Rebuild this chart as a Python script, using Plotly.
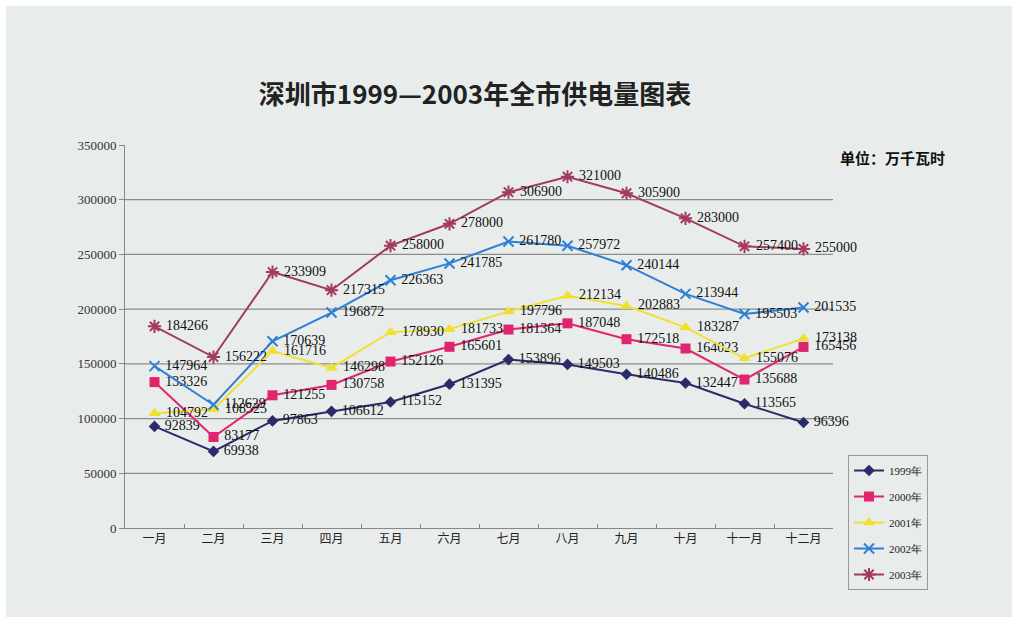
import plotly.graph_objects as go

months = ["一月", "二月", "三月", "四月", "五月", "六月", "七月", "八月", "九月", "十月", "十一月", "十二月"]
y1999 = [92839, 69938, 97863, 106612, 115152, 131395, 153896, 149503, 140486, 132447, 113565, 96396]
y2000 = [133326, 83177, 121255, 130758, 152126, 165601, 181364, 187048, 172518, 164023, 135688, 165456]
y2001 = [104792, 108525, 161716, 146298, 178930, 181733, 197796, 212134, 202883, 183287, 155076, 173138]
y2002 = [147964, 112629, 170639, 196872, 226363, 241785, 261780, 257972, 240144, 213944, 195503, 201535]
y2003 = [184266, 156222, 233909, 217315, 258000, 278000, 306900, 321000, 305900, 283000, 257400, 255000]
grid_values = [50000, 100000, 150000, 200000, 250000, 300000]

series = [
    ("1999年", y1999, "#2b2a6b", "diamond", 9, 0),
    ("2000年", y2000, "#e0246e", "square", 10, 0),
    ("2001年", y2001, "#f0e030", "triangle-up", 11, 0),
    ("2002年", y2002, "#2f7fd6", "x-thin-open", 10, 2),
    ("2003年", y2003, "#a23a62", "asterisk-open", 11, 2),
]

fig = go.Figure()
for i, (name, vals, color, sym, size, lw) in enumerate(series):
    marker = dict(symbol=sym, size=size, color=color)
    if lw:
        marker["line"] = dict(color=color, width=lw)
    fig.add_trace(go.Scatter(
        x=months, y=vals, name=name, mode="lines+markers+text",
        line=dict(color=color, width=2),
        marker=marker,
        text=["\u00a0" + str(v) for v in vals],
        textposition="middle right",
        textfont=dict(family="Liberation Serif", size=14, color="#111"),
        legendgroup=name,
        cliponaxis=False,
    ))

L, R, T, B = 125, 833, 145, 528
W, H = 1012, 617

def px_x(p):
    return (p - L) / (R - L)

def px_y(p):
    return (B - p) / (B - T)

shapes = [dict(type="rect", xref="paper", yref="paper",
               x0=px_x(6), x1=px_x(1012), y0=px_y(617), y1=px_y(6),
               fillcolor="#e8edec", line=dict(width=0), layer="below")]
for g in grid_values:
    shapes.append(dict(type="line", xref="paper", yref="y", x0=0, x1=1, y0=g, y1=g,
                       line=dict(color="#8c8c8c", width=1.3), layer="below"))

fig.update_layout(
    width=W, height=H,
    margin=dict(l=L, r=W - R, t=T, b=H - B),
    paper_bgcolor="white",
    plot_bgcolor="#e8edec",
    title=dict(text="深圳市1999—2003年全市供电量图表", x=475 / W, xanchor="center",
               y=1 - 95 / H, yanchor="middle",
               font=dict(family="Noto Sans CJK SC", size=26, color="#222", weight="bold")),
    xaxis=dict(type="category", range=[-0.5, 11.5], showgrid=False, showline=True,
               linecolor="#888", linewidth=1, ticks="inside", ticklen=4, tickcolor="#888",
               tickson="boundaries",
               tickfont=dict(family="Noto Sans CJK SC", size=12, color="#222")),
    yaxis=dict(range=[0, 350000], dtick=50000, showgrid=False, showline=True,
               linecolor="#888", linewidth=1, ticks="outside", ticklen=5, tickcolor="#888",
               zeroline=False, tickformat="d",
               tickfont=dict(family="Liberation Serif", size=13, color="#333")),
    legend=dict(x=px_x(848), y=px_y(455), xanchor="left", yanchor="top",
                bgcolor="#e8edec", bordercolor="#999", borderwidth=1,
                font=dict(family="Liberation Serif", size=11, color="#222"),
                tracegroupgap=7, itemwidth=30),
    shapes=shapes,
    annotations=[dict(text="<b>单位：万千瓦时</b>", xref="paper", yref="paper",
                      x=px_x(838), y=px_y(158), xanchor="left", yanchor="middle",
                      showarrow=False,
                      font=dict(family="Noto Sans CJK SC", size=15, color="#111"))],
)

fig.write_html("out.html")
